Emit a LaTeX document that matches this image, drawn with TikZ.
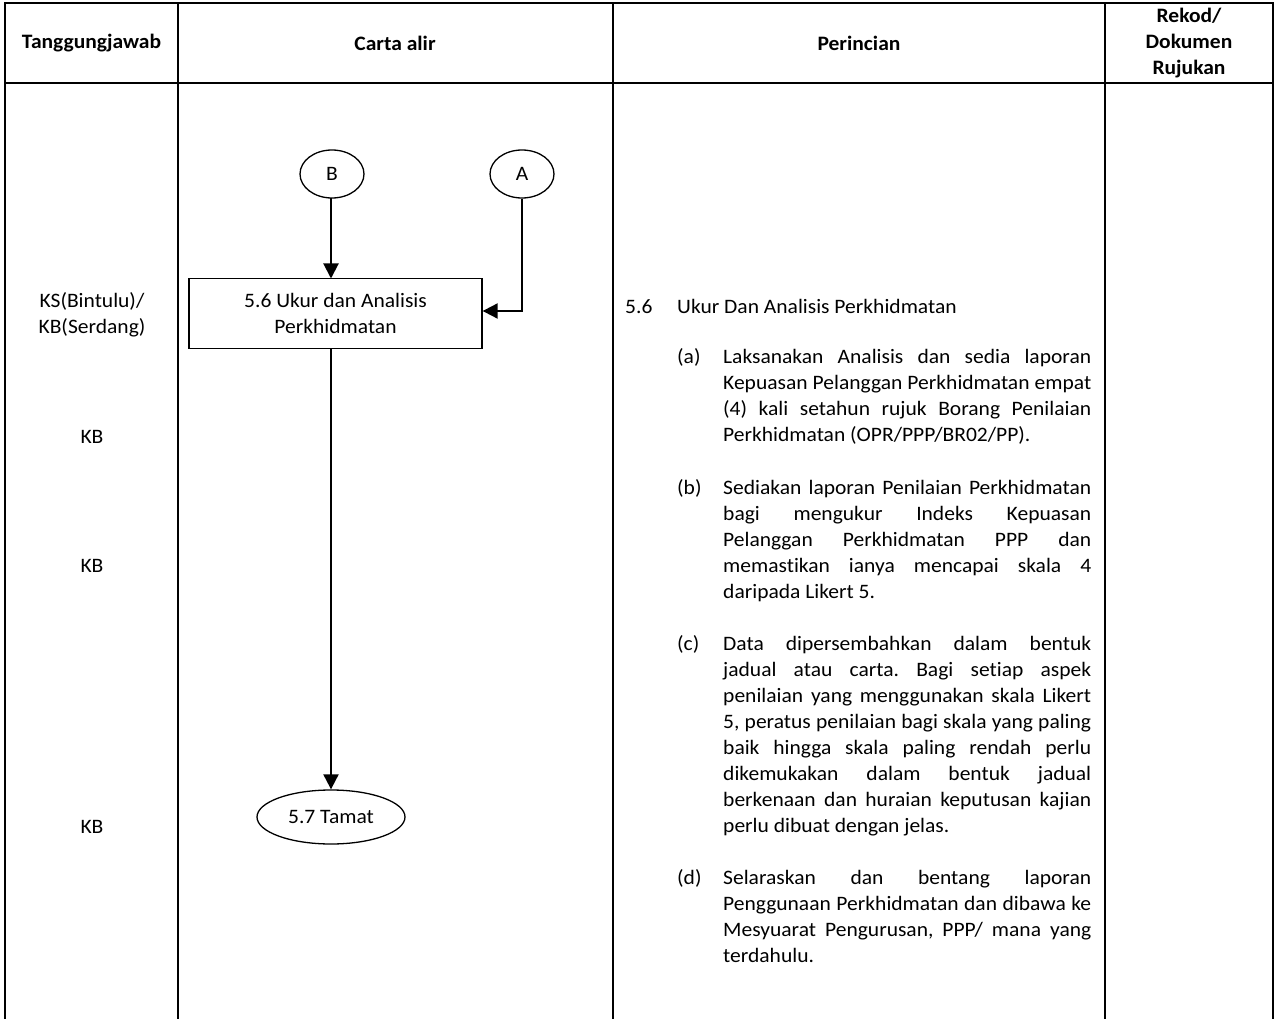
\documentclass[tikz,border=0pt]{standalone}
\usepackage{fontspec}
\setmainfont{Carlito}[FakeStretch=1.05,Ligatures=CommonOff]
\usetikzlibrary{shapes.geometric,arrows.meta}
\frenchspacing
\newcommand{\jl}[1]{\makebox[368pt][s]{#1}\\}
\newcommand{\myfs}{\fontsize{20.5}{26}\selectfont}
\begin{document}
\begin{tikzpicture}[x=1pt,y=-1pt,
  grid/.style={line width=2pt},
  txt/.style={font=\myfs, inner sep=0pt},
  hdr/.style={font=\myfs\bfseries, inner sep=0pt, align=center},
  para/.style={font=\myfs, inner sep=0pt, anchor=north west, align=left},
  conn/.style={ellipse, draw, line width=1.3pt, minimum width=64pt, minimum height=48pt, inner sep=0pt, font=\myfs},
  procbox/.style={rectangle, draw, line width=1.3pt, minimum width=293pt, minimum height=70pt, inner sep=0pt, align=center, font=\myfs},
  endbox/.style={ellipse, draw, line width=1.3pt, minimum width=148pt, minimum height=54pt, inner sep=0pt, font=\myfs},
  flow/.style={line width=2pt, -{Triangle[length=15pt,width=15pt]}}
]
\useasboundingbox (0,0) rectangle (1275,1019);
% table grid
\draw[grid] (5,1019) -- (5,3) -- (1273,3) -- (1273,1019);
\draw[grid] (5,83) -- (1273,83);
\draw[grid] (178,3) -- (178,1019);
\draw[grid] (613,3) -- (613,1019);
\draw[grid] (1105,3) -- (1105,1019);
% headers
\node[hdr] (h1) at (91.5,43) {Tanggungjawab};
\node[hdr] (h2) at (395,43) {Carta alir};
\node[hdr] (h3) at (859,43) {Perincian};
\node[hdr] (h4) at (1189,43) {Rekod/\\Dokumen\\Rujukan};
% responsibility
\node[txt, align=center] (r1) at (92,315) {KS(Bintulu)/\\KB(Serdang)};
\node[txt] (r2) at (92,437) {KB};
\node[txt] (r3) at (92,566) {KB};
\node[txt] (r4) at (92,827) {KB};
% flowchart
\node[conn] (B) at (332,174) {B};
\node[conn] (A) at (522,174) {A};
\node[procbox] (box) at (335.5,313.5) {5.6 Ukur dan Analisis\\Perkhidmatan};
\node[endbox] (end) at (331,817) {5.7 Tamat};
\draw[flow] (331,198) -- (331,278.5);
\draw[flow] (A.south) -- (A.south |- 0,311) -- (box.east |- 0,311);
\draw[flow] (331,348.5) -- (end.north);
% details
\node[txt, anchor=base west] (p0) at (625,313) {5.6};
\node[txt, anchor=base west] (p0t) at (677,313) {Ukur Dan Analisis Perkhidmatan};
\node[txt, anchor=base west] (la) at (677,363) {(a)};
\node[para] (pa) at (723,344.8) {\strut\jl{Laksanakan Analisis dan sedia laporan}\jl{Kepuasan Pelanggan Perkhidmatan empat}\jl{(4) kali setahun rujuk Borang Penilaian}Perkhidmatan (OPR/PPP/BR02/PP).};
\node[txt, anchor=base west] (lb) at (677,494) {(b)};
\node[para] (pb) at (723,475.8) {\strut\jl{Sediakan laporan Penilaian Perkhidmatan}\jl{bagi mengukur Indeks Kepuasan}\jl{Pelanggan Perkhidmatan PPP dan}\jl{memastikan ianya mencapai skala 4}daripada Likert 5.};
\node[txt, anchor=base west] (lc) at (677,650) {(c)};
\node[para] (pc) at (723,631.8) {\strut\jl{Data dipersembahkan dalam bentuk}\jl{jadual atau carta. Bagi setiap aspek}\jl{penilaian yang menggunakan skala Likert}\jl{5, peratus penilaian bagi skala yang paling}\jl{baik hingga skala paling rendah perlu}\jl{dikemukakan dalam bentuk jadual}\jl{berkenaan dan huraian keputusan kajian}perlu dibuat dengan jelas.};
\node[txt, anchor=base west] (ld) at (677,884) {(d)};
\node[para] (pd) at (723,865.8) {\strut\jl{Selaraskan dan bentang laporan}\jl{Penggunaan Perkhidmatan dan dibawa ke}\jl{Mesyuarat Pengurusan, PPP/ mana yang}terdahulu.};
\end{tikzpicture}
\end{document}
